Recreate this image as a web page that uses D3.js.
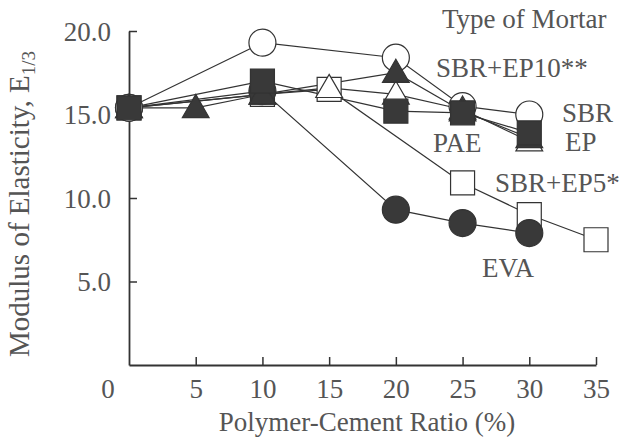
<!DOCTYPE html>
<html>
<head>
<meta charset="utf-8">
<script src="https://cdn.jsdelivr.net/npm/d3@7"></script>
<style>
  html, body { margin: 0; padding: 0; background: #fff; }
  svg text { font-family: "Liberation Serif", "DejaVu Serif", serif; fill: #555; }
</style>
</head>
<body>
<svg id="chart" width="627" height="441"></svg>
<script>
// ---- data ----
const xTickValues = [5, 10, 15, 20, 25, 30, 35];
const yTickValues = [5, 10, 15, 20];
const originLabel = "0";
const xTitle = "Polymer-Cement Ratio (%)";
const yTitle = "Modulus of Elasticity, E";
const yTitleSub = "1/3";
const legendTitle = "Type of Mortar";

const sbrX = [0, 10, 20, 25, 30];
const sbrY = [15.4, 19.3, 18.4, 15.5, 15.0];
const ep5X = [0, 10, 15, 25, 30, 35];
const ep5Y = [15.4, 16.2, 16.5, 10.9, 9.0, 7.5];
const paeX = [0, 10, 15, 20, 25, 30];
const paeY = [15.4, 16.2, 16.6, 16.2, 15.3, 13.4];
const ep10X = [0, 5, 10, 20, 25, 30];
const ep10Y = [15.4, 15.4, 16.2, 17.5, 15.2, 13.6];
const epX = [0, 10, 20, 25, 30];
const epY = [15.4, 17.0, 15.2, 15.1, 13.9];
const evaX = [0, 10, 20, 25, 30];
const evaY = [15.4, 16.4, 9.3, 8.5, 7.9];

// drawing order: bottom to top
const series = [
  { name: "SBR+EP5*", xs: ep5X, ys: ep5Y, shape: "square", filled: false },
  { name: "EVA", xs: evaX, ys: evaY, shape: "circle", filled: true },
  { name: "SBR", xs: sbrX, ys: sbrY, shape: "circle", filled: false },
  { name: "PAE", xs: paeX, ys: paeY, shape: "triangle", filled: false },
  { name: "SBR+EP10**", xs: ep10X, ys: ep10Y, shape: "triangle", filled: true },
  { name: "EP", xs: epX, ys: epY, shape: "square", filled: true }
];

// ---- layout ----
const svg = d3.select("#chart");
const x = d3.scaleLinear().domain([0, 35]).range([129, 596]);
const y = d3.scaleLinear().domain([0, 20]).range([365, 31]);
const ink = "#333";
const textColor = "#555";
const fs = "27px";

// axes
const xAxis = d3.axisBottom(x).tickValues(xTickValues).tickSizeInner(-8).tickSizeOuter(0).tickPadding(14)
  .tickFormat(d3.format("d"));
const yAxis = d3.axisLeft(y).tickValues(yTickValues).tickSizeInner(-8).tickSizeOuter(0).tickPadding(18)
  .tickFormat(d3.format(".1f"));

const gx = svg.append("g").attr("transform", `translate(0,${y(0)})`).call(xAxis);
const gy = svg.append("g").attr("transform", `translate(${x(0)},0)`).call(yAxis);
[gx, gy].forEach(g => {
  g.select(".domain").attr("stroke", ink).attr("stroke-width", 1.8);
  g.selectAll(".tick line").attr("stroke", ink).attr("stroke-width", 1.5);
  g.selectAll(".tick text").attr("fill", textColor).style("font-size", fs)
    .style("font-family", '"Liberation Serif", serif');
});
gx.selectAll(".tick text").attr("dy", "0.71em");
gy.selectAll(".tick text").attr("dy", "0.35em");

svg.append("text").attr("x", x(0) - 21).attr("y", y(0) + 14).attr("dy", "0.71em")
  .attr("text-anchor", "middle").style("font-size", fs).text(originLabel);

// axis titles
svg.append("text").attr("x", 367).attr("y", 431)
  .attr("text-anchor", "middle").style("font-size", fs).text(xTitle);

const yt = svg.append("text").attr("transform", `translate(29,${(y(0) + y(20)) / 2 + 6}) rotate(-90)`)
  .attr("text-anchor", "middle").style("font-size", "29px");
yt.append("tspan").text(yTitle);
yt.append("tspan").attr("dy", 6).style("font-size", "19px").text(yTitleSub);

// lines
const line = d3.line().x(d => x(d[0])).y(d => y(d[1]));
series.forEach(s => {
  const pts = s.xs.map((v, i) => [v, s.ys[i]]);
  svg.append("path").datum(pts).attr("d", line)
    .attr("fill", "none").attr("stroke", ink).attr("stroke-width", 1.2);
});

// markers
const symSize = { circle: 13.5 * 13.5 * Math.PI, square: 24 * 24, triangle: 310 };
series.forEach(s => {
  const typ = s.shape === "circle" ? d3.symbolCircle : s.shape === "square" ? d3.symbolSquare : d3.symbolTriangle;
  const sym = d3.symbol().type(typ).size(symSize[s.shape]);
  svg.append("g").selectAll("path").data(s.xs.map((v, i) => [v, s.ys[i]])).join("path")
    .attr("d", sym)
    .attr("transform", d => `translate(${x(d[0])},${y(d[1]) + (s.shape === "triangle" ? 2 : 0)})`)
    .attr("fill", s.filled ? "#393939" : "#fff")
    .attr("stroke", ink).attr("stroke-width", 1.2);
});

// annotations
const ann = (t, xx, yy) => svg.append("text").attr("x", xx).attr("y", yy).style("font-size", fs).text(t);
ann(legendTitle, 442, 28);
ann("SBR+EP10**", 436, 77);
ann("SBR", 562, 122);
ann("EP", 565, 151);
ann("PAE", 433, 152);
ann("SBR+EP5*", 495, 192);
ann("EVA", 482, 277);
</script>
</body>
</html>
